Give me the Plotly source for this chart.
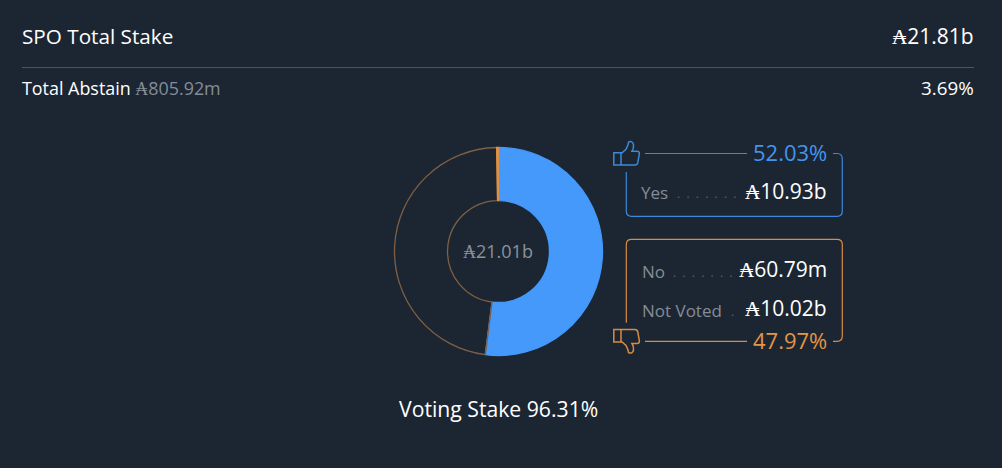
from plotly import graph_objects as go

WIDTH = 1002
HEIGHT = 468

# Data
slice_names = ["Yes", "Not Voted", "No"]
slice_values = [10.93, 10.02, 0.06079]
slice_fills = ["#4499fb", "rgba(0,0,0,0)", "#dd9144"]
slice_lines = ["#4499fb", "#7f6044", "#dd9144"]

title_text = "SPO Total Stake"
total_stake = "₳21.81b"
abstain_label = "Total Abstain"
abstain_stake = "₳805.92m"
abstain_pct = "3.69%"
centre_stake = "₳21.01b"
voting_text = "Voting Stake 96.31%"
yes_pct = "52.03%"
no_pct = "47.97%"
yes_stake = "₳10.93b"
no_stake = "₳60.79m"
not_voted_stake = "₳10.02b"

BG = "#1c2633"
BLUE = "#3f88d8"
BLUE_TEXT = "#4493ec"
ORANGE = "#d98c3f"
ORANGE_TEXT = "#e39545"
GREY = "#858c96"
DOTS = "\u00a0\u00a0".join(["."] * 7)
WHITE = "#ffffff"
FONT = "Open Sans"


def px(x):
    return x / WIDTH


def py(y):
    return 1 - y / HEIGHT


def path(points):
    """Builds an svg path in paper coordinates from pixel commands"""
    out = []
    for cmd, *xy in points:
        coords = [f"{px(xy[i])},{py(xy[i + 1])}" for i in range(0, len(xy), 2)]
        out.append(cmd + " ".join(coords))
    return " ".join(out)


def line_shape(points, color, width=1.2):
    return dict(type="path", xref="paper", yref="paper", path=path(points),
                line=dict(color=color, width=width), layer="above")


def label(x, y, text, size, color, anchor="left"):
    # annotations carry about a pixel of padding, so nudge them onto the edge
    nudge = {"left": -1, "right": 0.5, "center": 0}[anchor]
    return dict(x=px(x + nudge), y=py(y), xref="paper", yref="paper", text=text, showarrow=False,
                xanchor=anchor, yanchor="middle", align=anchor, borderpad=0,
                font=dict(family=FONT, size=size, color=color, weight=500))


def thumb(top, color, flip=False):
    """Thumb icon, 26x25 px, drawn pointing up or (flip) down"""
    def f(y):
        return top + (25 - y if flip else y)
    return line_shape([
        ("M", 613.8, f(12)), ("L", 621, f(12)), ("L", 621, f(24.4)), ("L", 613.8, f(24.4)), ("Z",),
        ("M", 621, f(13)), ("L", 626, f(8.5)), ("L", 628, f(4)), ("L", 628.5, f(1.5)),
        ("Q", 632.5, f(-0.5), 633.5, f(4)), ("Q", 634, f(7.5), 632, f(10.5)),
        ("L", 637, f(10.5)), ("Q", 639.8, f(10.5), 639.3, f(13.5)), ("L", 637.8, f(22)),
        ("Q", 637.3, f(24.4), 635, f(24.4)), ("L", 621, f(24.4)),
    ], color, 1.5)


fig = go.Figure()

fig.add_trace(go.Pie(
    labels=slice_names,
    values=slice_values,
    marker=dict(colors=slice_fills, line=dict(color=slice_lines, width=1.3)),
    hole=0.49,
    sort=False,
    direction="clockwise",
    rotation=0,
    textinfo="none",
    showlegend=False,
    domain=dict(x=[px(394.5), px(602.5)], y=[py(355.5), py(147.5)]),
))

shapes = [
    dict(type="line", xref="paper", yref="paper", x0=px(22), x1=px(974), y0=py(67.5), y1=py(67.5),
         line=dict(color="#4b5360", width=1)),
    # Yes box
    line_shape([("M", 626.3, 172), ("L", 626.3, 211), ("Q", 626.3, 216.3, 631.5, 216.3), ("L", 837, 216.3),
                ("Q", 842.3, 216.3, 842.3, 211), ("L", 842.3, 159), ("Q", 842.3, 153.5, 837, 153.5),
                ("L", 833, 153.5)], BLUE),
    line_shape([("M", 645, 153.5), ("L", 747, 153.5)], BLUE),
    thumb(140.7, BLUE),
    # No box
    line_shape([("M", 626.3, 322.7), ("L", 626.3, 244.5), ("Q", 626.3, 239.3, 631.5, 239.3), ("L", 837, 239.3),
                ("Q", 842.3, 239.3, 842.3, 244.5), ("L", 842.3, 336), ("Q", 842.3, 341.3, 837, 341.3),
                ("L", 833, 341.3)], ORANGE),
    line_shape([("M", 645, 341.3), ("L", 747, 341.3)], ORANGE),
    thumb(329, ORANGE, flip=True),
]

annotations = [
    label(22, 36, title_text, 20.7, WHITE),
    label(974, 36, total_stake, 21, WHITE, "right"),
    label(22, 87.5, f"{abstain_label} <span style='color:{GREY}'>{abstain_stake}</span>", 17.9, WHITE),
    label(974, 87.5, abstain_pct, 18.8, WHITE, "right"),
    label(498, 250.5, centre_stake, 18, "#8a919b", "center"),
    label(498, 408, voting_text, 21.2, WHITE, "center"),
    label(827, 152, yes_pct, 22, BLUE_TEXT, "right"),
    label(641, 192, "Yes", 17, GREY),
    label(677, 193, DOTS, 12, "#59616d"),
    label(827, 191, yes_stake, 21, WHITE, "right"),
    label(642, 271, "No", 17, GREY),
    label(673, 272, DOTS, 12, "#59616d"),
    label(827, 269, no_stake, 21, WHITE, "right"),
    label(642, 310, "Not Voted", 17, GREY),
    label(731, 311, ".", 12, "#59616d"),
    label(827, 308, not_voted_stake, 21, WHITE, "right"),
    label(827, 340, no_pct, 22, ORANGE_TEXT, "right"),
]

fig.update_layout(
    width=WIDTH,
    height=HEIGHT,
    margin=dict(l=0, r=0, t=0, b=0),
    paper_bgcolor=BG,
    plot_bgcolor=BG,
    shapes=shapes,
    annotations=annotations,
)

fig.write_html("out.html", config=dict(displayModeBar=False),
               post_script=f"document.body.style.margin='0';document.body.style.background='{BG}';")
